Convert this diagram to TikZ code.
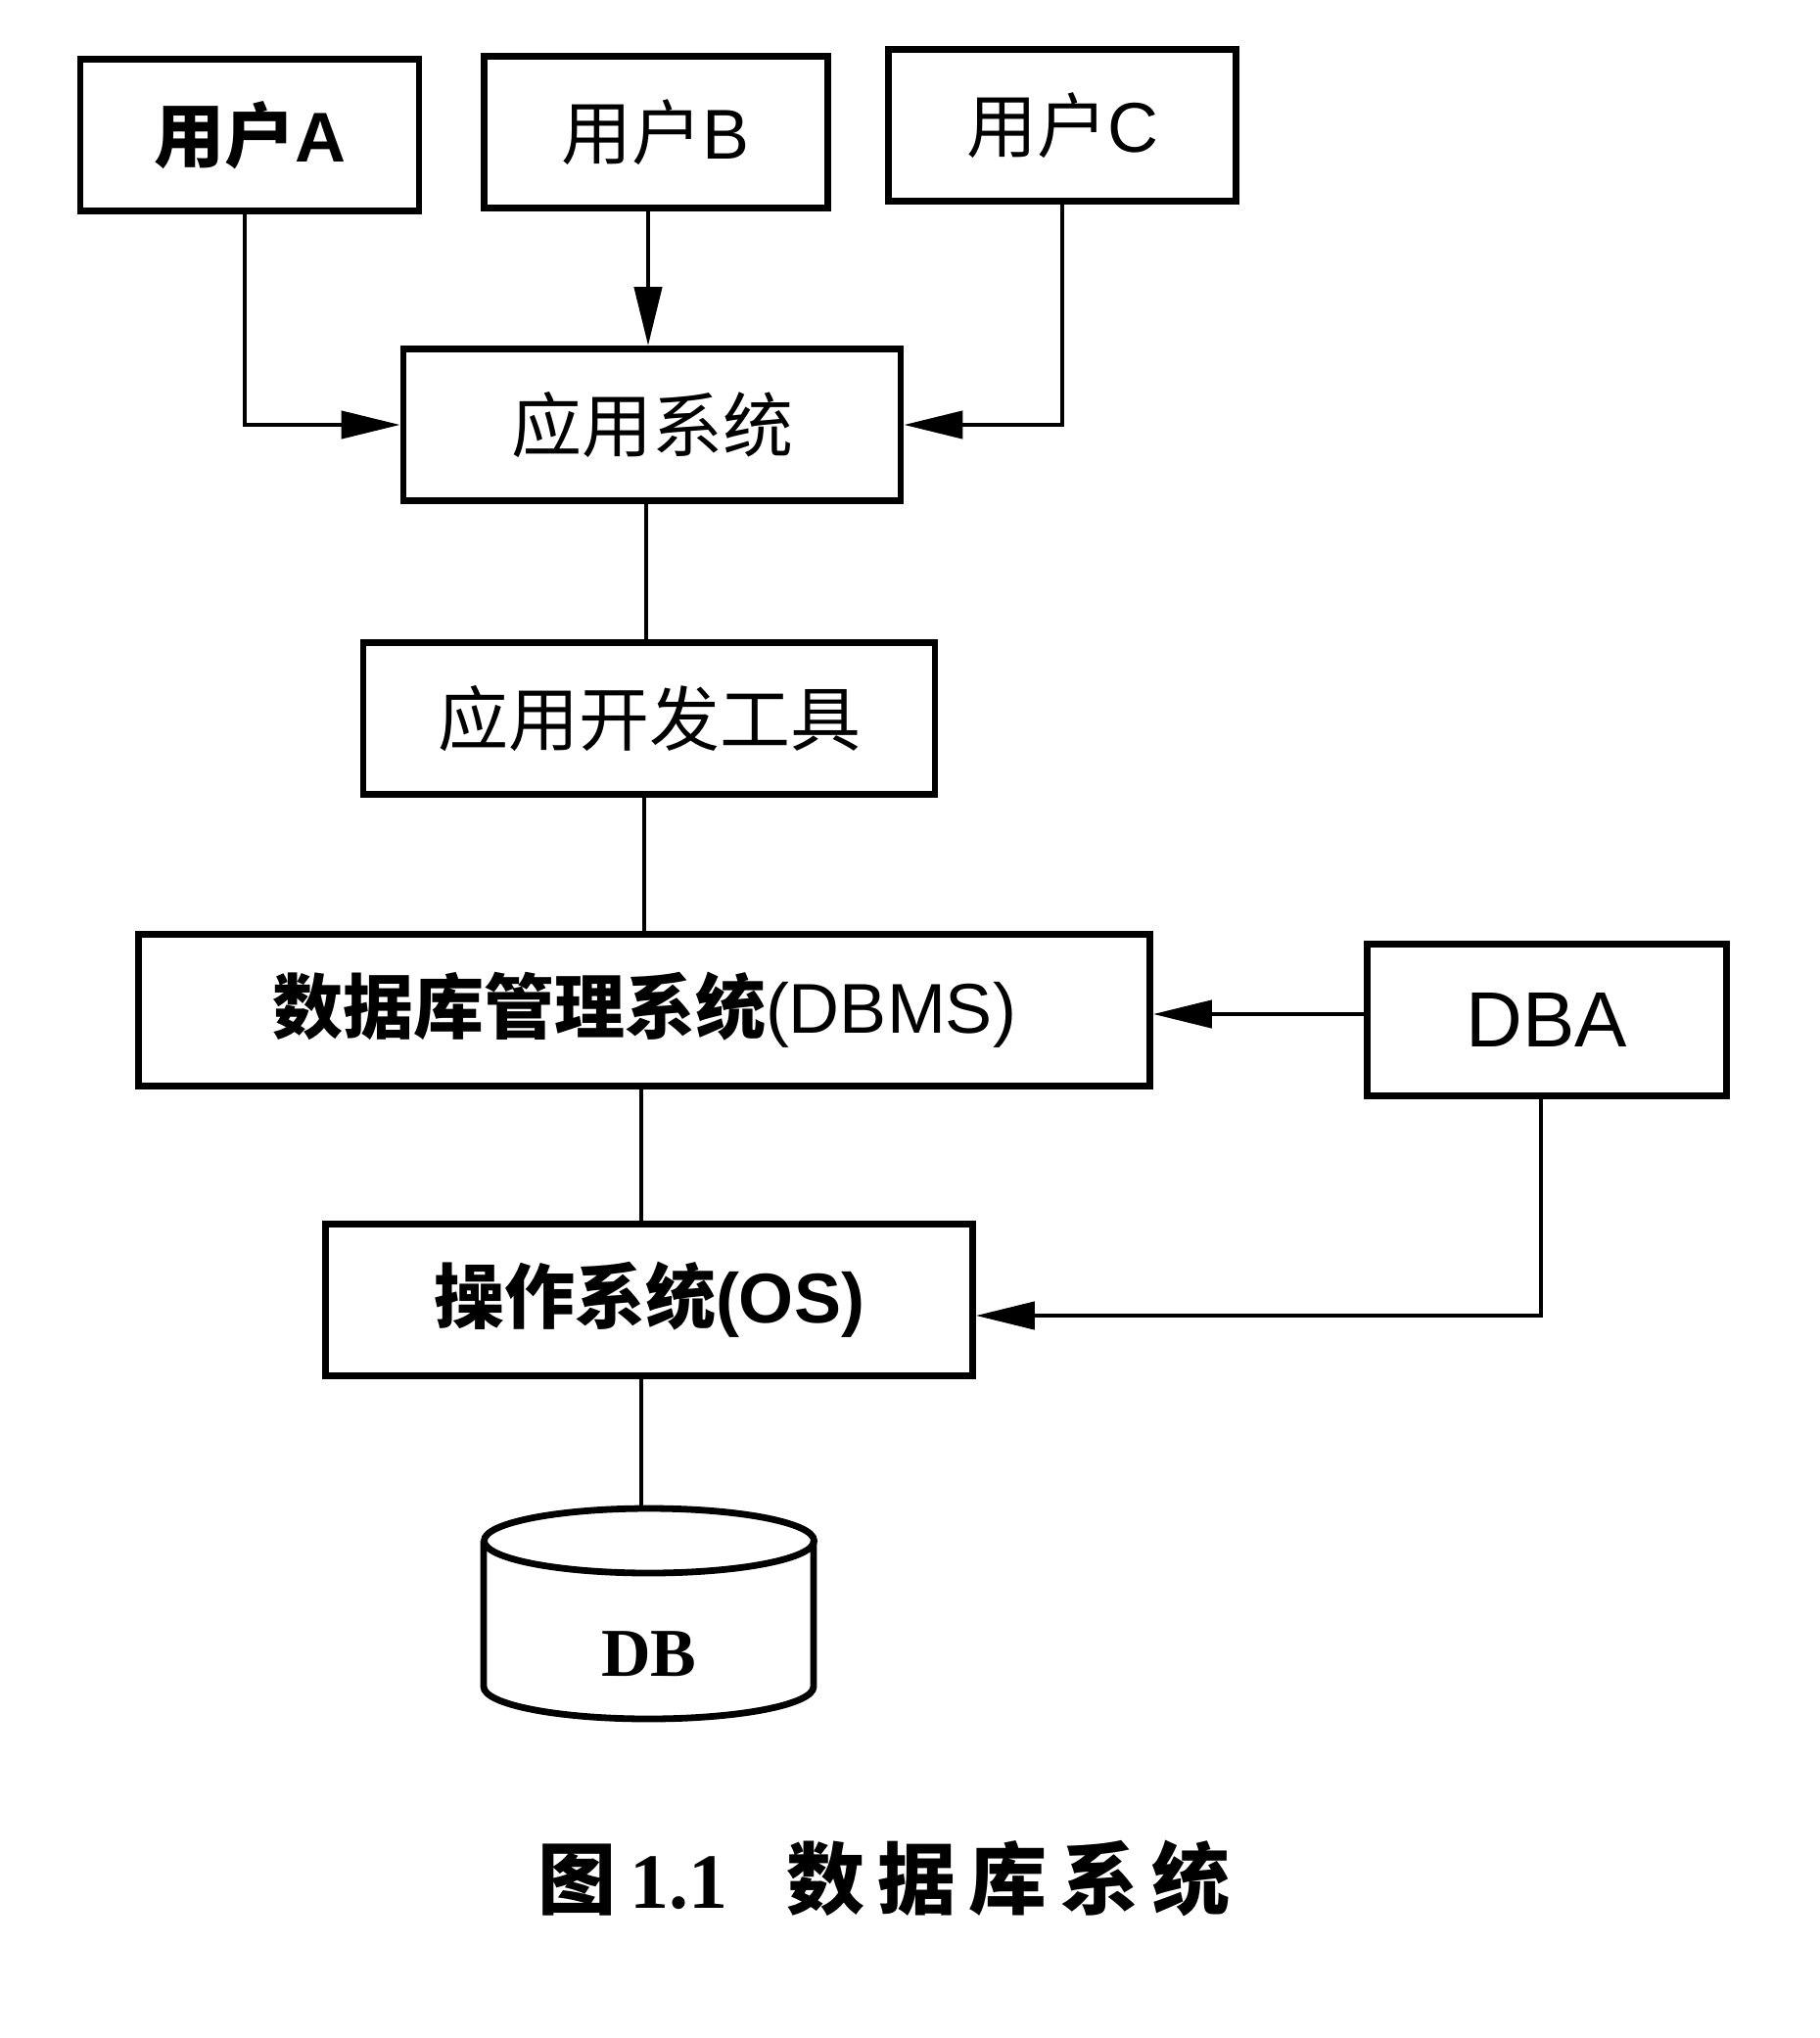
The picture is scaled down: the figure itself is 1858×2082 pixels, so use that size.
\documentclass[tikz,border=0pt]{standalone}
\usepackage{fontspec}
\setmainfont{Liberation Serif}
\newfontfamily\cjk{Noto Sans CJK SC}
\newfontfamily\lsans{Liberation Sans}
\usetikzlibrary{arrows.meta}
\begin{document}
\begin{tikzpicture}[x=0.5pt,y=-0.5pt,
  box/.style={draw, line width=3.4pt, inner sep=0pt, minimum height=77.5pt, font=\fontsize{36}{40}\selectfont\lsans},
  link/.style={line width=2pt},
  arr/.style={line width=2.2pt, -{Triangle[length=30pt,width=14pt]}}]
\useasboundingbox[fill=white] (0,0) rectangle (1858,2082);
\node[box, minimum width=173pt] (UA) at (255,138) {{\cjk\bfseries 用户}\bfseries A};
\node[box, minimum width=175.5pt] (UB) at (670,135) {{\cjk 用户}B};
\node[box, minimum width=177.5pt] (UC) at (1085,128) {{\cjk 用户}C};
\node[box, minimum width=254pt] (AS) at (666,434) {\cjk 应用系统};
\node[box, minimum width=292pt] (ADT) at (663,734) {\cjk 应用开发工具};
\node[box, minimum width=516.5pt] (DBMS) at (658,1032) {{\cjk\bfseries 数据库管理系统}(DBMS)};
\node[box, minimum width=183.5pt, font=\fontsize{40}{46}\selectfont\lsans] (DBA) at (1580,1042) {DBA};
\node[box, minimum width=330.5pt] (OS) at (663,1328) {{\cjk\bfseries 操作系统}\bfseries(OS)};
% cylinder DB
\coordinate (DBtop) at (663,1541);
\draw[line width=3.4pt] (494,1574) -- (494,1723) arc[start angle=180, end angle=360, x radius=168.5, y radius=-33] -- (831,1574);
\draw[line width=3.4pt] (663,1574) ellipse[x radius=168.5, y radius=33];
\node[font=\fontsize{35}{40}\selectfont\bfseries] (DB) at (663,1690) {DB};
% caption
\node[font=\fontsize{40}{44}\selectfont\cjk\bfseries] (cap) at (903,1919) {图\,{\rmfamily 1.1}\hspace{30pt}数\,据\,库\,系\,统};
% connectors
\draw[arr] (UA.south -| 250,0) |- (AS.west);
\draw[arr] (UB.south -| 662,0) -- (AS.north -| 662,0);
\draw[arr] (UC.south) |- (AS.east);
\draw[link] (AS.south -| 660,0) -- (ADT.north -| 660,0);
\draw[link] (ADT.south -| 658,0) -- (DBMS.north -| 658,0);
\draw[link] (DBMS.south -| 655,0) -- (OS.north -| 655,0);
\draw[link] (OS.south -| 655,0) -- (DBtop -| 655,0);
\draw[arr] (DBA.west |- 0,1036) -- (DBMS.east |- 0,1036);
\draw[arr] (DBA.south -| 1574,0) |- (OS.east |- 0,1344);
\end{tikzpicture}
\end{document}
